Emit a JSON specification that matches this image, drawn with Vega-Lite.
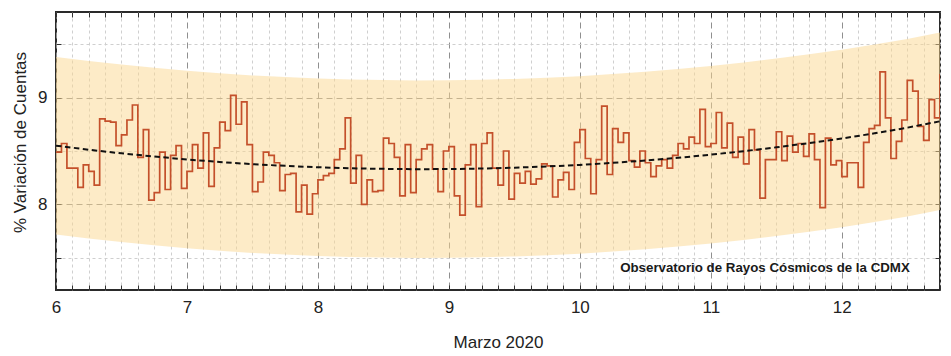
{
  "$schema": "https://vega.github.io/schema/vega-lite/v6.json",
  "width": 884,
  "height": 278,
  "autosize": {"type": "none"},
  "padding": {"left": 56, "top": 12, "right": 11, "bottom": 66},
  "background": "white",
  "config": {
    "font": "Liberation Sans",
    "view": {"stroke": "#2a2a2a", "strokeWidth": 2}
  },
  "datasets": {
    "cuentas": [
      {"t":"2020-03-06T00:00","v":8.49},{"t":"2020-03-06T01:00","v":8.57},{"t":"2020-03-06T02:00","v":8.34},{"t":"2020-03-06T03:00","v":8.34},
      {"t":"2020-03-06T04:00","v":8.16},{"t":"2020-03-06T05:00","v":8.37},{"t":"2020-03-06T06:00","v":8.31},{"t":"2020-03-06T07:00","v":8.18},
      {"t":"2020-03-06T08:00","v":8.80},{"t":"2020-03-06T09:00","v":8.78},{"t":"2020-03-06T10:00","v":8.77},{"t":"2020-03-06T11:00","v":8.55},
      {"t":"2020-03-06T12:00","v":8.65},{"t":"2020-03-06T13:00","v":8.79},{"t":"2020-03-06T14:00","v":8.93},{"t":"2020-03-06T15:00","v":8.44},
      {"t":"2020-03-06T16:00","v":8.70},{"t":"2020-03-06T17:00","v":8.04},{"t":"2020-03-06T18:00","v":8.11},{"t":"2020-03-06T19:00","v":8.49},
      {"t":"2020-03-06T20:00","v":8.14},{"t":"2020-03-06T21:00","v":8.46},{"t":"2020-03-06T22:00","v":8.55},{"t":"2020-03-06T23:00","v":8.15},
      {"t":"2020-03-07T00:00","v":8.31},{"t":"2020-03-07T01:00","v":8.56},{"t":"2020-03-07T02:00","v":8.34},{"t":"2020-03-07T03:00","v":8.67},
      {"t":"2020-03-07T04:00","v":8.17},{"t":"2020-03-07T05:00","v":8.53},{"t":"2020-03-07T06:00","v":8.77},{"t":"2020-03-07T07:00","v":8.69},
      {"t":"2020-03-07T08:00","v":9.02},{"t":"2020-03-07T09:00","v":8.75},{"t":"2020-03-07T10:00","v":8.96},{"t":"2020-03-07T11:00","v":8.56},
      {"t":"2020-03-07T12:00","v":8.12},{"t":"2020-03-07T13:00","v":8.21},{"t":"2020-03-07T14:00","v":8.49},{"t":"2020-03-07T15:00","v":8.46},
      {"t":"2020-03-07T16:00","v":8.39},{"t":"2020-03-07T17:00","v":8.13},{"t":"2020-03-07T18:00","v":8.28},{"t":"2020-03-07T19:00","v":8.29},
      {"t":"2020-03-07T20:00","v":7.93},{"t":"2020-03-07T21:00","v":8.18},{"t":"2020-03-07T22:00","v":7.91},{"t":"2020-03-07T23:00","v":8.10},
      {"t":"2020-03-08T00:00","v":8.23},{"t":"2020-03-08T01:00","v":8.27},{"t":"2020-03-08T02:00","v":8.29},{"t":"2020-03-08T03:00","v":8.42},
      {"t":"2020-03-08T04:00","v":8.52},{"t":"2020-03-08T05:00","v":8.81},{"t":"2020-03-08T06:00","v":8.20},{"t":"2020-03-08T07:00","v":8.46},
      {"t":"2020-03-08T08:00","v":8.00},{"t":"2020-03-08T09:00","v":8.23},{"t":"2020-03-08T10:00","v":8.12},{"t":"2020-03-08T11:00","v":8.13},
      {"t":"2020-03-08T12:00","v":8.62},{"t":"2020-03-08T13:00","v":8.57},{"t":"2020-03-08T14:00","v":8.44},{"t":"2020-03-08T15:00","v":8.08},
      {"t":"2020-03-08T16:00","v":8.56},{"t":"2020-03-08T17:00","v":8.11},{"t":"2020-03-08T18:00","v":8.42},{"t":"2020-03-08T19:00","v":8.52},
      {"t":"2020-03-08T20:00","v":8.56},{"t":"2020-03-08T21:00","v":8.33},{"t":"2020-03-08T22:00","v":8.12},{"t":"2020-03-08T23:00","v":8.50},
      {"t":"2020-03-09T00:00","v":8.54},{"t":"2020-03-09T01:00","v":8.08},{"t":"2020-03-09T02:00","v":7.90},{"t":"2020-03-09T03:00","v":8.37},
      {"t":"2020-03-09T04:00","v":8.56},{"t":"2020-03-09T05:00","v":7.98},{"t":"2020-03-09T06:00","v":8.57},{"t":"2020-03-09T07:00","v":8.67},
      {"t":"2020-03-09T08:00","v":8.34},{"t":"2020-03-09T09:00","v":8.18},{"t":"2020-03-09T10:00","v":8.50},{"t":"2020-03-09T11:00","v":8.05},
      {"t":"2020-03-09T12:00","v":8.29},{"t":"2020-03-09T13:00","v":8.20},{"t":"2020-03-09T14:00","v":8.31},{"t":"2020-03-09T15:00","v":8.19},
      {"t":"2020-03-09T16:00","v":8.24},{"t":"2020-03-09T17:00","v":8.38},{"t":"2020-03-09T18:00","v":8.36},{"t":"2020-03-09T19:00","v":8.07},
      {"t":"2020-03-09T20:00","v":8.23},{"t":"2020-03-09T21:00","v":8.30},{"t":"2020-03-09T22:00","v":8.14},{"t":"2020-03-09T23:00","v":8.58},
      {"t":"2020-03-10T00:00","v":8.70},{"t":"2020-03-10T01:00","v":8.43},{"t":"2020-03-10T02:00","v":8.10},{"t":"2020-03-10T03:00","v":8.42},
      {"t":"2020-03-10T04:00","v":8.92},{"t":"2020-03-10T05:00","v":8.28},{"t":"2020-03-10T06:00","v":8.71},{"t":"2020-03-10T07:00","v":8.58},
      {"t":"2020-03-10T08:00","v":8.67},{"t":"2020-03-10T09:00","v":8.41},{"t":"2020-03-10T10:00","v":8.35},{"t":"2020-03-10T11:00","v":8.50},
      {"t":"2020-03-10T12:00","v":8.39},{"t":"2020-03-10T13:00","v":8.26},{"t":"2020-03-10T14:00","v":8.36},{"t":"2020-03-10T15:00","v":8.42},
      {"t":"2020-03-10T16:00","v":8.34},{"t":"2020-03-10T17:00","v":8.46},{"t":"2020-03-10T18:00","v":8.57},{"t":"2020-03-10T19:00","v":8.52},
      {"t":"2020-03-10T20:00","v":8.63},{"t":"2020-03-10T21:00","v":8.57},{"t":"2020-03-10T22:00","v":8.89},{"t":"2020-03-10T23:00","v":8.54},
      {"t":"2020-03-11T00:00","v":8.57},{"t":"2020-03-11T01:00","v":8.86},{"t":"2020-03-11T02:00","v":8.53},{"t":"2020-03-11T03:00","v":8.76},
      {"t":"2020-03-11T04:00","v":8.44},{"t":"2020-03-11T05:00","v":8.63},{"t":"2020-03-11T06:00","v":8.38},{"t":"2020-03-11T07:00","v":8.70},
      {"t":"2020-03-11T08:00","v":8.51},{"t":"2020-03-11T09:00","v":8.06},{"t":"2020-03-11T10:00","v":8.42},{"t":"2020-03-11T11:00","v":8.42},
      {"t":"2020-03-11T12:00","v":8.68},{"t":"2020-03-11T13:00","v":8.41},{"t":"2020-03-11T14:00","v":8.64},{"t":"2020-03-11T15:00","v":8.49},
      {"t":"2020-03-11T16:00","v":8.57},{"t":"2020-03-11T17:00","v":8.45},{"t":"2020-03-11T18:00","v":8.66},{"t":"2020-03-11T19:00","v":8.42},
      {"t":"2020-03-11T20:00","v":7.97},{"t":"2020-03-11T21:00","v":8.62},{"t":"2020-03-11T22:00","v":8.37},{"t":"2020-03-11T23:00","v":8.41},
      {"t":"2020-03-12T00:00","v":8.26},{"t":"2020-03-12T01:00","v":8.39},{"t":"2020-03-12T02:00","v":8.39},{"t":"2020-03-12T03:00","v":8.16},
      {"t":"2020-03-12T04:00","v":8.58},{"t":"2020-03-12T05:00","v":8.71},{"t":"2020-03-12T06:00","v":8.74},{"t":"2020-03-12T07:00","v":9.24},
      {"t":"2020-03-12T08:00","v":8.81},{"t":"2020-03-12T09:00","v":8.43},{"t":"2020-03-12T10:00","v":8.59},{"t":"2020-03-12T11:00","v":8.79},
      {"t":"2020-03-12T12:00","v":9.16},{"t":"2020-03-12T13:00","v":9.06},{"t":"2020-03-12T14:00","v":8.73},{"t":"2020-03-12T15:00","v":8.60},
      {"t":"2020-03-12T16:00","v":8.98},{"t":"2020-03-12T17:00","v":8.81},{"t":"2020-03-12T18:00","v":9.22}
    ],
    "ajuste": [
      {"t":"2020-03-06T00:00","fit":8.550,"lo":7.720,"hi":9.380},
      {"t":"2020-03-06T06:00","fit":8.512,"lo":7.682,"hi":9.342},
      {"t":"2020-03-06T12:00","fit":8.478,"lo":7.648,"hi":9.308},
      {"t":"2020-03-06T18:00","fit":8.448,"lo":7.618,"hi":9.278},
      {"t":"2020-03-07T00:00","fit":8.421,"lo":7.591,"hi":9.251},
      {"t":"2020-03-07T06:00","fit":8.397,"lo":7.567,"hi":9.227},
      {"t":"2020-03-07T12:00","fit":8.377,"lo":7.547,"hi":9.207},
      {"t":"2020-03-07T18:00","fit":8.361,"lo":7.531,"hi":9.191},
      {"t":"2020-03-08T00:00","fit":8.348,"lo":7.518,"hi":9.178},
      {"t":"2020-03-08T06:00","fit":8.338,"lo":7.508,"hi":9.168},
      {"t":"2020-03-08T12:00","fit":8.333,"lo":7.503,"hi":9.163},
      {"t":"2020-03-08T18:00","fit":8.330,"lo":7.500,"hi":9.160},
      {"t":"2020-03-09T00:00","fit":8.331,"lo":7.501,"hi":9.161},
      {"t":"2020-03-09T06:00","fit":8.336,"lo":7.506,"hi":9.166},
      {"t":"2020-03-09T12:00","fit":8.344,"lo":7.514,"hi":9.174},
      {"t":"2020-03-09T18:00","fit":8.355,"lo":7.525,"hi":9.185},
      {"t":"2020-03-10T00:00","fit":8.370,"lo":7.540,"hi":9.200},
      {"t":"2020-03-10T06:00","fit":8.389,"lo":7.559,"hi":9.219},
      {"t":"2020-03-10T12:00","fit":8.411,"lo":7.581,"hi":9.241},
      {"t":"2020-03-10T18:00","fit":8.436,"lo":7.606,"hi":9.266},
      {"t":"2020-03-11T00:00","fit":8.466,"lo":7.636,"hi":9.296},
      {"t":"2020-03-11T06:00","fit":8.498,"lo":7.668,"hi":9.328},
      {"t":"2020-03-11T12:00","fit":8.534,"lo":7.704,"hi":9.364},
      {"t":"2020-03-11T18:00","fit":8.574,"lo":7.744,"hi":9.404},
      {"t":"2020-03-12T00:00","fit":8.617,"lo":7.787,"hi":9.447},
      {"t":"2020-03-12T06:00","fit":8.665,"lo":7.835,"hi":9.495},
      {"t":"2020-03-12T12:00","fit":8.718,"lo":7.888,"hi":9.548},
      {"t":"2020-03-12T18:00","fit":8.778,"lo":7.948,"hi":9.608}
    ],
    "nota": [{"texto": "Observatorio de Rayos Cósmicos de la CDMX", "t": "2020-03-12T12:28", "y": 7.41}]
  },
  "resolve": {"axis": {"x": "independent", "y": "independent"}},
  "layer": [
    {
      "data": {"name": "ajuste"},
      "mark": {"type": "area", "color": "#fbd88f", "opacity": 0.5, "clip": true},
      "encoding": {
        "x": {
          "field": "t", "type": "temporal",
          "scale": {"domain": ["2020-03-06T00:00", "2020-03-12T18:00"], "nice": false},
          "axis": {
            "orient": "bottom",
            "tickCount": 54,
            "labelExpr": "hours(datum.value) === 0 ? timeFormat(datum.value, '%-d') : ''",
            "labelOverlap": false,
            "labelFlush": false,
            "labelFontSize": 17,
            "labelColor": "#222",
            "labelPadding": 14,
            "tickSize": -5,
            "tickColor": "#333",
            "domain": false,
            "grid": true,
            "gridColor": {"condition": {"test": "hours(datum.value) === 0", "value": "#8f8f8f"}, "value": "#cfcfcf"},
            "gridDash": {"condition": {"test": "hours(datum.value) === 0", "value": [6, 4]}, "value": [3, 3]},
            "title": "Marzo 2020",
            "titleFontSize": 17,
            "titleFontWeight": "normal",
            "titleColor": "#222",
            "titleBaseline": "alphabetic",
            "titleY": 57
          }
        },
        "y": {
          "field": "lo", "type": "quantitative",
          "scale": {"domain": [7.2, 9.8], "nice": false, "zero": false},
          "axis": {
            "orient": "left",
            "values": [7.5, 8, 8.5, 9, 9.5],
            "labelExpr": "datum.value % 1 === 0 ? format(datum.value, '.0f') : ''",
            "labelOverlap": false,
            "labelFlush": false,
            "labelFontSize": 17,
            "labelColor": "#222",
            "labelPadding": 14,
            "tickSize": -5,
            "tickColor": "#333",
            "domain": false,
            "grid": true,
            "gridColor": {"condition": {"test": "datum.value % 1 === 0", "value": "#8f8f8f"}, "value": "#cfcfcf"},
            "gridDash": {"condition": {"test": "datum.value % 1 === 0", "value": [6, 4]}, "value": [3, 3]},
            "title": "% Variación de Cuentas",
            "titleFontSize": 17,
            "titleFontWeight": "normal",
            "titleColor": "#222",
            "titleAngle": -90,
            "titleAlign": "center",
            "titleBaseline": "alphabetic",
            "titleX": -31,
            "titleY": 130
          }
        },
        "y2": {"field": "hi"}
      }
    },
    {
      "data": {"name": "cuentas"},
      "mark": {"type": "line", "interpolate": "step-after", "color": "#c4502b", "strokeWidth": 1.7, "clip": true},
      "encoding": {
        "x": {
          "field": "t", "type": "temporal",
          "axis": {
            "orient": "top",
            "tickCount": 54,
            "labels": false,
            "grid": false,
            "domain": false,
            "tickSize": -5,
            "tickColor": "#333",
            "title": null
          }
        },
        "y": {
          "field": "v", "type": "quantitative",
          "axis": {
            "orient": "right",
            "values": [7.5, 8, 8.5, 9, 9.5],
            "labels": false,
            "grid": false,
            "domain": false,
            "tickSize": -5,
            "tickColor": "#333",
            "title": null
          }
        }
      }
    },
    {
      "data": {"name": "ajuste"},
      "mark": {"type": "line", "color": "#111", "strokeWidth": 2, "strokeDash": [5.5, 3.5], "clip": true},
      "encoding": {
        "x": {"field": "t", "type": "temporal", "axis": null},
        "y": {"field": "fit", "type": "quantitative", "axis": null}
      }
    },
    {
      "data": {"name": "nota"},
      "mark": {"type": "text", "align": "right", "baseline": "middle", "fontWeight": "bold", "fontSize": 13.3, "color": "#1a1a1a"},
      "encoding": {
        "text": {"field": "texto"},
        "x": {"field": "t", "type": "temporal", "axis": null},
        "y": {"field": "y", "type": "quantitative", "axis": null}
      }
    }
  ]
}
